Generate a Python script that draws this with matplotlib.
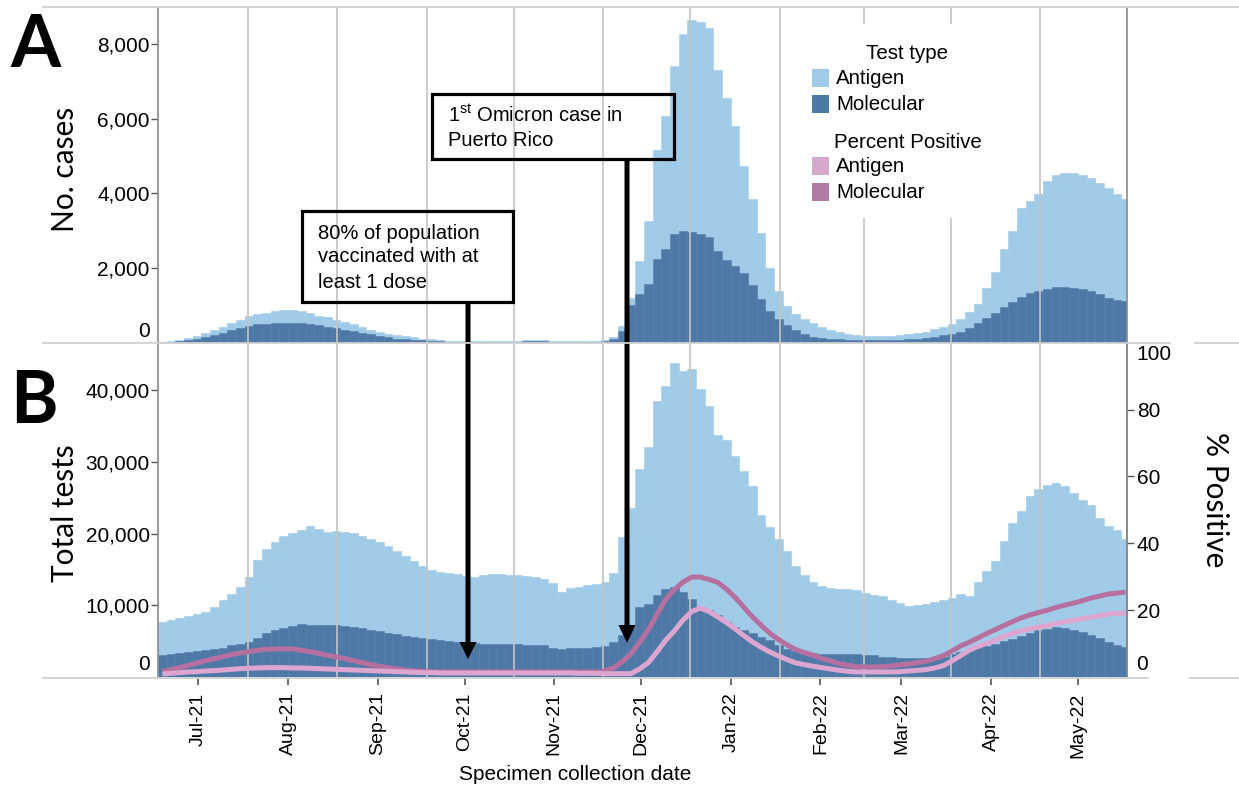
import numpy as np
import pandas as pd
import matplotlib
matplotlib.use('Agg')
import matplotlib.pyplot as plt
import matplotlib.dates as mdates
from matplotlib.patches import Rectangle, FancyArrow
from matplotlib.ticker import FuncFormatter

plt.rcParams['font.family'] = ['Liberation Sans', 'DejaVu Sans']
plt.rcParams['mathtext.fontset'] = 'custom'
plt.rcParams['mathtext.rm'] = 'Liberation Sans'
plt.rcParams['mathtext.it'] = 'Liberation Sans:italic'

# ---------------- data (3-day bins starting 2021-06-17) ----------------
bin_start = pd.date_range('2021-06-17', periods=112, freq='3D')

# Panel A: confirmed cases by test type
cases_molecular = [
    5, 20, 35, 70, 110, 160, 210, 270, 330, 400,
    450, 490, 510, 525, 536, 540, 536, 510, 480, 430,
    390, 350, 310, 270, 220, 180, 140, 110, 100, 85,
    65, 50, 40, 30, 25, 25, 25, 25, 25, 25,
    25, 30, 50, 50, 45, 25, 25, 25, 25, 25,
    25, 40, 110, 300, 1000, 1313, 1580, 2250, 2520, 2920,
    3000, 2975, 2920, 2840, 2465, 2225, 2065, 1875, 1555, 1180,
    858, 643, 480, 350, 240, 160, 134, 107, 95, 80,
    80, 75, 75, 75, 75, 80, 90, 100, 134, 160,
    200, 240, 295, 400, 536, 670, 804, 965, 1100, 1233,
    1340, 1394, 1447, 1500, 1500, 1474, 1447, 1394, 1313, 1206, 1150, 1125]
cases_antigen = [
    5, 20, 35, 60, 80, 100, 120, 150, 190, 220,
    260, 280, 290, 325, 344, 335, 322, 290, 240, 245,
    230, 210, 180, 150, 130, 110, 100, 85, 70, 55,
    45, 40, 30, 25, 20, 20, 20, 20, 20, 20,
    20, 25, 30, 30, 25, 20, 15, 15, 15, 15,
    15, 20, 40, 150, 200, 887, 1690, 2900, 3560, 4500,
    5280, 5655, 5680, 5575, 4825, 4315, 3750, 2870, 2305, 1770,
    1152, 752, 510, 430, 403, 376, 296, 243, 200, 160,
    135, 115, 115, 115, 115, 120, 150, 155, 161, 200,
    230, 270, 348, 430, 509, 804, 1096, 1555, 1900, 2387,
    2460, 2596, 2893, 3000, 3056, 3082, 3053, 3026, 2977, 2924, 2840, 2735]

# Panel B: total tests by test type
tests_molecular = [
    3060, 3150, 3300, 3450, 3600, 3800, 3950, 4100, 4400, 4650,
    4900, 5500, 6150, 6500, 6850, 7100, 7350, 7300, 7230, 7230,
    7230, 7100, 6950, 6800, 6600, 6350, 6150, 5950, 5750, 5560,
    5400, 5250, 5100, 5000, 4900, 4800, 4720, 4650, 4600, 4600,
    4590, 4550, 4500, 4450, 4400, 4100, 3890, 4000, 4050, 4100,
    4150, 4300, 4900, 5800, 7000, 9800, 10200, 11500, 12200, 12500,
    11900, 10900, 9800, 9350, 8600, 7700, 7000, 6500, 6100, 5600,
    5100, 4500, 3900, 3600, 3400, 3300, 3200, 3200, 3200, 3200,
    3200, 3100, 3000, 2850, 2780, 2700, 2650, 2640, 2640, 2700,
    2780, 3200, 3500, 3800, 4100, 4350, 4550, 5000, 5300, 5700,
    6100, 6500, 6700, 6950, 6800, 6550, 6300, 5900, 5500, 4900, 4500, 4170]
tests_antigen = [
    4590, 4750, 4950, 5100, 5200, 5300, 5750, 6600, 7200, 7850,
    9100, 10800, 11650, 12300, 12750, 13000, 13100, 13690, 13370, 12970,
    13170, 13150, 13100, 12800, 12600, 12450, 12150, 11650, 11150, 10640,
    10100, 9700, 9600, 9480, 9400, 9250, 9230, 9550, 9720, 9700,
    9610, 9600, 9550, 9500, 9200, 8970, 8010, 8370, 8550, 8690,
    8800, 8900, 9600, 13700, 16500, 19200, 21800, 27000, 28300, 31300,
    30700, 32000, 30400, 28450, 25200, 25300, 23800, 22200, 20500, 17000,
    15750, 14800, 13600, 11900, 10800, 9900, 9500, 9250, 9100, 9000,
    8890, 8650, 8500, 8450, 8020, 7600, 7220, 7360, 7560, 7800,
    7970, 7750, 8100, 7500, 9100, 10450, 11650, 14000, 16100, 17500,
    19100, 19700, 20000, 20150, 19800, 19050, 18400, 18100, 16700, 16200, 16000, 15130]

# Percent positive
pct_molecular = [
    1.6, 2.2, 2.8, 3.5, 4.2, 4.9, 5.5, 6.1, 6.7, 7.2,
    7.6, 8.0, 8.3, 8.4, 8.4, 8.4, 8.0, 7.6, 7.1, 6.5,
    6.0, 5.5, 4.9, 4.3, 3.7, 3.2, 2.8, 2.4, 2.1, 1.9,
    1.7, 1.6, 1.5, 1.5, 1.5, 1.5, 1.5, 1.5, 1.5, 1.5,
    1.5, 1.5, 1.5, 1.5, 1.5, 1.5, 1.5, 1.5, 1.5, 1.5,
    1.5, 1.8, 2.8, 4.5, 7.0, 10.4, 14.1, 18.7, 23.3, 26.1,
    28.4, 29.9, 29.9, 29.2, 28.3, 26.3, 23.8, 20.9, 18.0, 15.5,
    13.1, 11.2, 9.6, 8.2, 7.3, 6.5, 5.5, 4.8, 4.0, 3.5,
    3.1, 3.0, 3.0, 3.1, 3.3, 3.6, 3.9, 4.3, 4.7, 5.5,
    6.4, 7.8, 9.3, 10.4, 11.7, 13.0, 14.2, 15.4, 16.6, 17.7,
    18.6, 19.3, 20.0, 20.8, 21.5, 22.1, 22.8, 23.6, 24.2, 24.8, 25.1, 25.4]
pct_antigen = [
    0.9, 1.1, 1.3, 1.5, 1.6, 1.8, 1.9, 2.1, 2.3, 2.5,
    2.6, 2.7, 2.8, 2.8, 2.8, 2.7, 2.7, 2.6, 2.5, 2.4,
    2.3, 2.2, 2.1, 2.0, 1.9, 1.8, 1.7, 1.6, 1.5, 1.4,
    1.3, 1.3, 1.2, 1.2, 1.2, 1.2, 1.2, 1.2, 1.2, 1.2,
    1.2, 1.2, 1.2, 1.2, 1.2, 1.2, 1.2, 1.2, 1.1, 1.1,
    1.1, 1.0, 1.0, 1.0, 1.0, 2.4, 4.3, 7.5, 11.0, 13.8,
    17.0, 19.6, 20.6, 19.6, 18.0, 16.3, 14.4, 12.4, 10.5, 8.9,
    7.5, 6.3, 5.2, 4.2, 3.7, 3.2, 2.8, 2.4, 2.0, 1.7,
    1.5, 1.5, 1.5, 1.5, 1.5, 1.6, 1.8, 2.0, 2.2, 2.7,
    3.4, 4.8, 6.4, 8.0, 9.2, 10.1, 11.0, 12.1, 13.1, 13.8,
    14.4, 14.9, 15.4, 16.0, 16.5, 17.0, 17.4, 17.9, 18.3, 18.8, 19.0, 19.1]

grid_dates = pd.to_datetime(['2021-07-18', '2021-08-18', '2021-09-18', '2021-10-18',
                             '2021-11-18', '2021-12-18', '2022-01-18', '2022-02-16',
                             '2022-03-18', '2022-04-18'])
x_start, x_end = pd.Timestamp('2021-06-17'), pd.Timestamp('2022-05-18')

# ---------------- styling ----------------
C_ANT = '#a0cbe8'
C_MOL = '#4e79a7'
C_PANT = '#dca6d0'
C_PMOL = '#b5709f'
C_PANT_LEG = '#d6a8cb'
C_PMOL_LEG = '#b07aa1'
GRID = '#c4c4c4'
SPINE = '#8a8a8a'
LINE = '#d0d0d0'

W, H = 1239, 788
fig = plt.figure(figsize=(W / 100, H / 100), dpi=100)


def rect(l, t, r, b):
    return [l / W, 1 - b / H, (r - l) / W, (b - t) / H]


x = bin_start + pd.Timedelta(hours=36)

axA = fig.add_axes(rect(158, 7, 1127, 342.7))
axB = fig.add_axes(rect(158, 342.7, 1127, 677))

bar_kw = dict(width=3, linewidth=0.4)
# Panel A
axA.bar(x, cases_molecular, color=C_MOL, edgecolor=C_MOL, zorder=1, **bar_kw)
axA.bar(x, cases_antigen, bottom=cases_molecular, color=C_ANT, edgecolor=C_ANT,
        zorder=0.9, **bar_kw)
axA.set_ylim(0, 8990)

# Panel B
axB.bar(x, tests_molecular, color=C_MOL, edgecolor=C_MOL, zorder=1, **bar_kw)
axB.bar(x, tests_antigen, bottom=tests_molecular, color=C_ANT, edgecolor=C_ANT,
        zorder=0.9, **bar_kw)
axB.set_ylim(0, 46600)

for ax in (axA, axB):
    ax.set_xlim(x_start, x_end)
    for d in grid_dates:
        ax.axvline(d, color=GRID, lw=1.2, zorder=2)
    for s in ('top', 'bottom'):
        ax.spines[s].set_visible(False)
    for s in ('left', 'right'):
        ax.spines[s].set_color(SPINE)
        ax.spines[s].set_linewidth(1.2)
    ax.patch.set_alpha(0)

fmt = FuncFormatter(lambda v, p: f'{v:,.0f}')
axA.set_yticks([2000, 4000, 6000, 8000])
axA.yaxis.set_major_formatter(fmt)
axA.tick_params(axis='y', length=5, width=1, color='#555555', pad=1, labelsize=15)
axA.tick_params(axis='x', bottom=False, labelbottom=False)

axB.set_yticks([10000, 20000, 30000, 40000])
axB.yaxis.set_major_formatter(fmt)
axB.tick_params(axis='y', length=5, width=1, color='#555555', pad=1, labelsize=15)
axB.xaxis.set_major_locator(mdates.MonthLocator())
axB.xaxis.set_major_formatter(mdates.DateFormatter('%b-%y'))
axB.tick_params(axis='x', length=6, width=1.2, color='#555555', pad=5, labelsize=14,
                labelrotation=90)

axP = axB.twinx()
axP.plot(x, pct_molecular, color=C_PMOL, lw=3.6, zorder=3, solid_capstyle='butt')
axP.plot(x, pct_antigen, color=C_PANT, lw=3.6, zorder=3, solid_capstyle='butt')
axP.set_ylim(0, 100)
axP.set_xlim(x_start, x_end)
axP.set_yticks([20, 40, 60, 80])
axP.tick_params(axis='y', length=5, width=1, color='#555555', pad=2, labelsize=15)
for s in ('top', 'bottom', 'left'):
    axP.spines[s].set_visible(False)
axP.spines['right'].set_color(SPINE)
axP.spines['right'].set_linewidth(1.2)

# ---------------- overlay (pixel coordinates) ----------------
ov = fig.add_axes([0, 0, 1, 1], zorder=10)
ov.set_xlim(0, W)
ov.set_ylim(H, 0)
ov.axis('off')
ov.patch.set_alpha(0)

ov.plot([43, W], [7, 7], color=LINE, lw=1.3)
ov.plot([43, 1170], [342.7, 342.7], color=LINE, lw=1.3)
ov.plot([1195, W], [342.7, 342.7], color=LINE, lw=1.3)
ov.plot([43, 1148], [677.5, 677.5], color=LINE, lw=1.3)
ov.plot([1190, W], [677.5, 677.5], color=LINE, lw=1.3)

# extra zero / 100 labels as placed in the original
ov.text(150, 331, '0', ha='right', va='center', fontsize=15)
ov.text(150, 665, '0', ha='right', va='center', fontsize=15)
ov.text(1136, 665, '0', ha='left', va='center', fontsize=15)
ov.text(1136, 354, '100', ha='left', va='center', fontsize=15)

# legend
ov.add_patch(Rectangle((805, 24), 190, 194, fc='white', ec='none'))
ov.text(907, 53, 'Test type', ha='center', va='center', fontsize=14.8)
ov.add_patch(Rectangle((812, 69), 17, 18, fc=C_ANT, ec='none'))
ov.text(836, 78, 'Antigen', ha='left', va='center', fontsize=14.8)
ov.add_patch(Rectangle((812, 95), 17, 18, fc=C_MOL, ec='none'))
ov.text(836, 104, 'Molecular', ha='left', va='center', fontsize=14.8)
ov.text(908, 142, 'Percent Positive', ha='center', va='center', fontsize=14.8)
ov.add_patch(Rectangle((812, 157), 17, 18, fc=C_PANT_LEG, ec='none'))
ov.text(836, 166, 'Antigen', ha='left', va='center', fontsize=14.8)
ov.add_patch(Rectangle((812, 183), 17, 18, fc=C_PMOL_LEG, ec='none'))
ov.text(836, 192, 'Molecular', ha='left', va='center', fontsize=14.8)

# annotation boxes and arrows
ov.add_patch(Rectangle((302, 211), 211, 91, fill=False, ec='black', lw=2.3))
ov.text(318, 233, '80% of population', ha='left', va='center', fontsize=14.5)
ov.text(318, 257, 'vaccinated with at', ha='left', va='center', fontsize=14.5)
ov.text(318, 282, 'least 1 dose', ha='left', va='center', fontsize=14.5)
ov.add_artist(FancyArrow(468, 302, 0, 357, width=5, head_width=17, head_length=17,
                         length_includes_head=True, fc='black', ec='none'))

ov.add_patch(Rectangle((432, 94), 242, 65, fill=False, ec='black', lw=2.3))
ov.text(448, 115, '1$^{\\mathrm{st}}$ Omicron case in', ha='left', va='center', fontsize=14.5)
ov.text(448, 140, 'Puerto Rico', ha='left', va='center', fontsize=14.5)
ov.add_artist(FancyArrow(627, 159, 0, 484, width=5, head_width=17, head_length=18,
                         length_includes_head=True, fc='black', ec='none'))

# axis titles and panel letters
ov.text(65, 169, 'No. cases', rotation=90, ha='center', va='center', fontsize=21.5,
        family=['Lato', 'DejaVu Sans'])
ov.text(65, 513, 'Total tests', rotation=90, ha='center', va='center', fontsize=21.5,
        family=['Lato', 'DejaVu Sans'])
ov.text(1215, 500, '% Positive', rotation=270, ha='center', va='center', fontsize=21.5,
        family=['Lato', 'DejaVu Sans'])
ov.text(575, 780, 'Specimen collection date', ha='center', va='baseline', fontsize=15)
ov.text(35, 67, 'A', ha='center', va='baseline', fontsize=52, fontweight='bold',
        family=['Lato', 'DejaVu Sans'])
ov.text(34, 423, 'B', ha='center', va='baseline', fontsize=52, fontweight='bold',
        family=['Lato', 'DejaVu Sans'])

fig.savefig('out.png', dpi=100)
